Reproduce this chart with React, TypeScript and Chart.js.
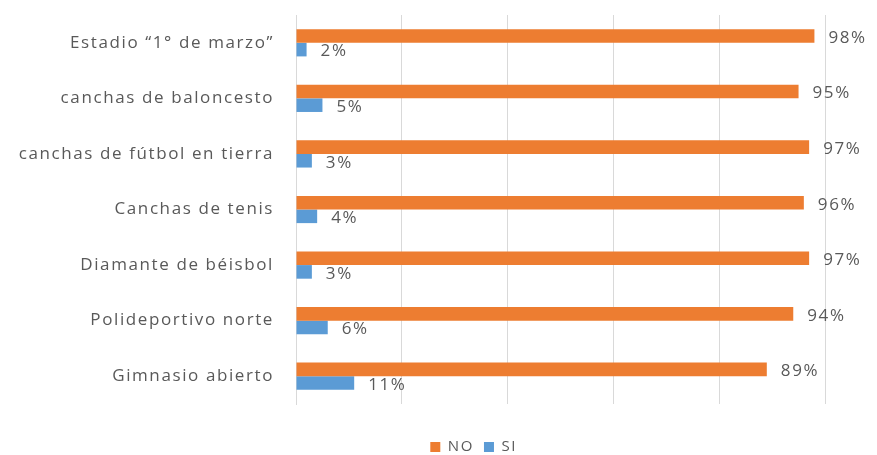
import React, { useEffect, useRef } from "react";
import { Chart, registerables } from "chart.js";

Chart.register(...registerables);

const categories = [
  "Estadio “1° de marzo”",
  "canchas de baloncesto",
  "canchas de fútbol en tierra",
  "Canchas de tenis",
  "Diamante de béisbol",
  "Polideportivo norte",
  "Gimnasio abierto",
];
const seriesNames = ["NO", "SI"];
const noValues = [98, 95, 97, 96, 97, 94, 89];
const siValues = [2, 5, 3, 4, 3, 6, 11];

const FONT = "'Open Sans', sans-serif";
const TEXT = "#595959";
const GRID = "#d9d9d9";

const spacing = {
  id: "spacing",
  beforeDraw(chart: any) {
    chart.ctx.letterSpacing = "1.6px";
  },
  afterDraw(chart: any) {
    chart.ctx.letterSpacing = "0px";
  },
};

const valueLabels = {
  id: "valueLabels",
  afterDatasetsDraw(chart: any) {
    const ctx = chart.ctx;
    ctx.save();
    ctx.letterSpacing = "1.6px";
    ctx.font = `17px ${FONT}`;
    ctx.fillStyle = TEXT;
    ctx.textBaseline = "middle";
    ctx.textAlign = "left";
    chart.data.datasets.forEach((ds: any, i: number) => {
      const meta = chart.getDatasetMeta(i);
      meta.data.forEach((bar: any, j: number) => {
        ctx.fillText(`${ds.data[j]}%`, bar.x + 14, bar.y + 2);
      });
    });
    ctx.restore();
  },
};

const legendShift = {
  id: "legendShift",
  afterLayout(chart: any) {
    const l = chart.legend;
    if (l) {
      const h = l.bottom - l.top;
      l.left += 58;
      l.right += 58;
      l.top = 447 - h / 2;
      l.bottom = l.top + h;
    }
  },
};

export default function App() {
  const ref = useRef<HTMLCanvasElement>(null);
  useEffect(() => {
    document.body.style.margin = "0";
    const chart = new Chart(ref.current as HTMLCanvasElement, {
      type: "bar",
      data: {
        labels: categories,
        datasets: [
          {
            label: seriesNames[0],
            data: noValues,
            backgroundColor: "#ED7D31",
            barPercentage: 1,
            categoryPercentage: 0.49,
          },
          {
            label: seriesNames[1],
            data: siValues,
            backgroundColor: "#5B9BD5",
            barPercentage: 1,
            categoryPercentage: 0.49,
          },
        ],
      },
      options: {
        indexAxis: "y",
        animation: false,
        responsive: false,
        maintainAspectRatio: false,
        layout: { padding: { left: 0, right: 52, top: 15, bottom: 16 } },
        scales: {
          x: {
            min: 0,
            max: 100,
            ticks: { display: false, stepSize: 20 },
            grid: { color: GRID, drawTicks: false, lineWidth: 1 },
            border: { display: false },
          },
          y: {
            grid: { display: false, drawTicks: false },
            border: { display: true, color: GRID },
            ticks: {
              color: TEXT,
              font: { family: FONT, size: 17 },
              padding: 22,
            },
            afterFit(scale: any) {
              scale.width = 296;
              scale.paddingTop = 0;
              scale.paddingBottom = 0;
            },
          },
        },
        plugins: {
          legend: {
            position: "bottom",
            labels: {
              color: TEXT,
              font: { family: FONT, size: 15 },
              boxWidth: 10,
              boxHeight: 10,
              padding: 10,
            },
          },
          tooltip: { enabled: false },
        },
      },
      plugins: [spacing, valueLabels, legendShift],
    });
    return () => chart.destroy();
  }, []);
  return <canvas ref={ref} width={877} height={455} style={{ display: "block" }} />;
}
